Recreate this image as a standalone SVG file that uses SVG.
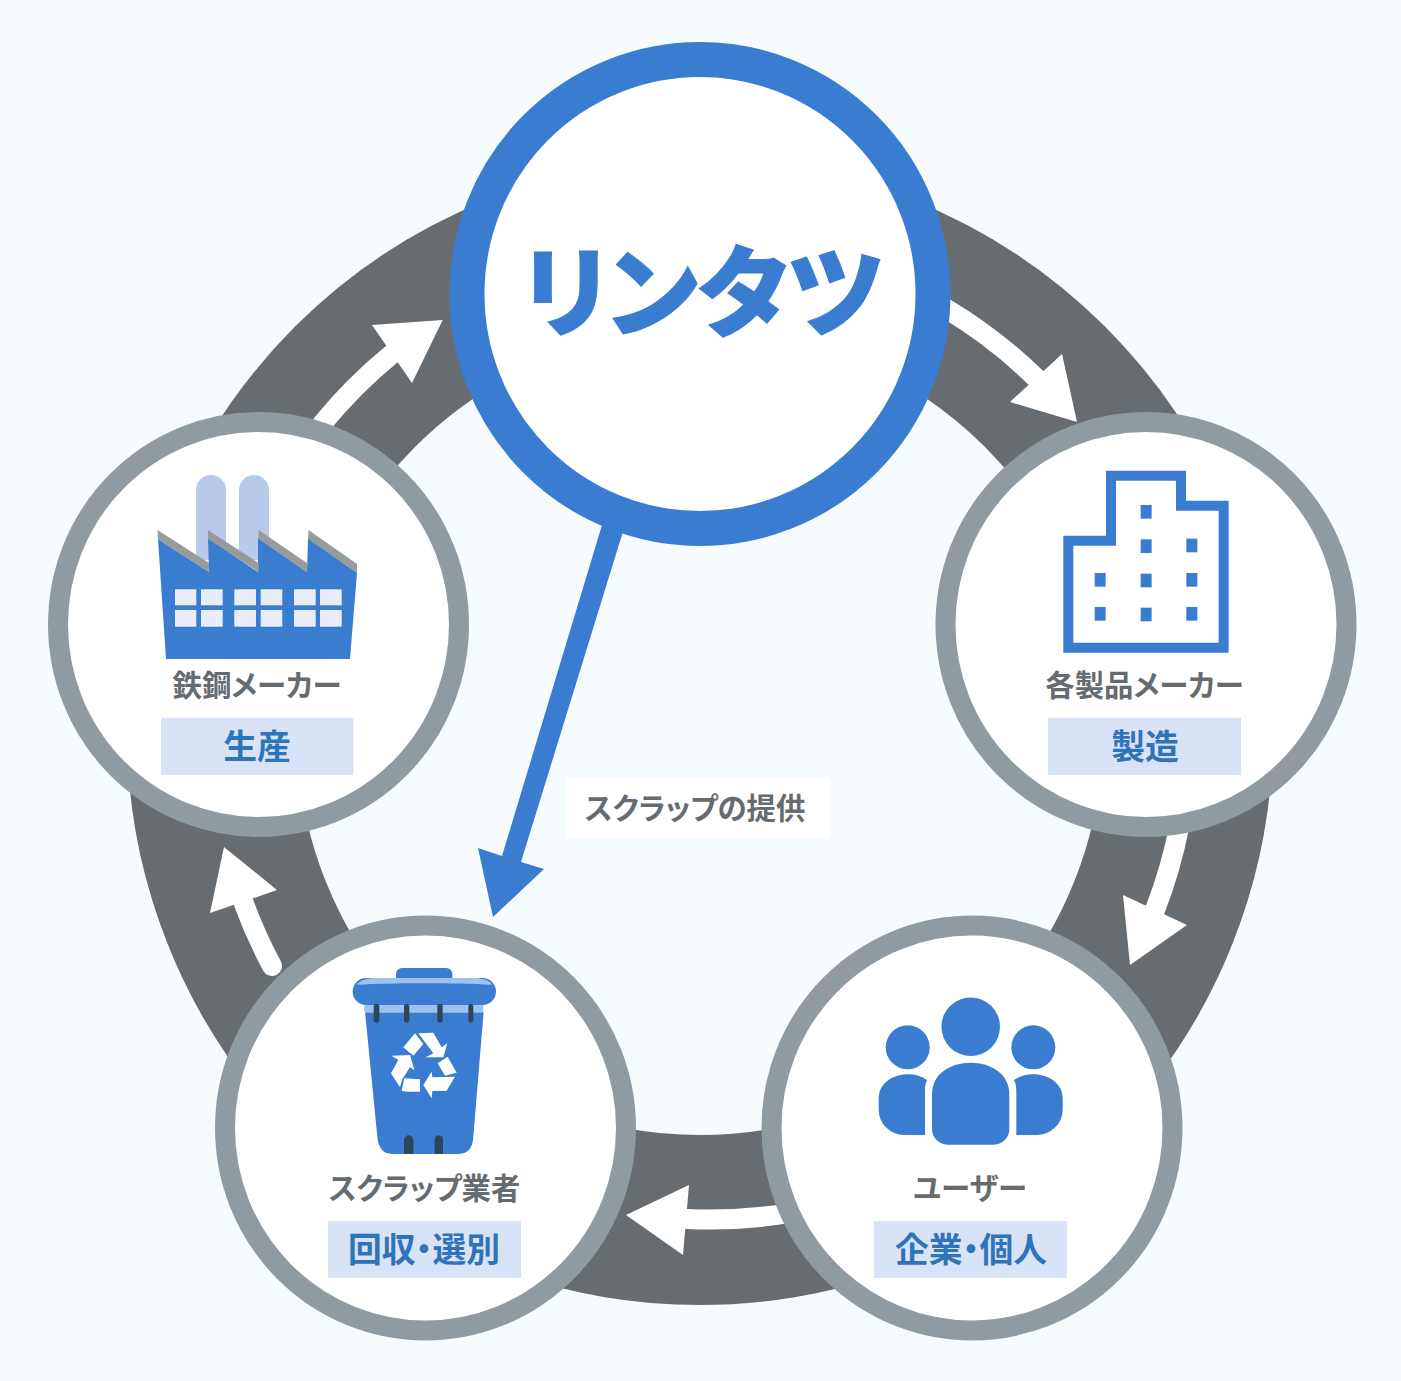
<svg xmlns="http://www.w3.org/2000/svg" width="1401" height="1381" viewBox="0 0 1401 1381">
<style>
text{font-family:"Noto Sans CJK JP","Noto Sans",sans-serif;font-feature-settings:"palt";text-anchor:middle}
.lbl{font-size:29.4px;font-weight:700;fill:#666b70}
.sub{font-size:33.8px;font-weight:700;fill:#2f74b9}
.tag{fill:#d9e3f7}
.disc{fill:#fff;stroke:#8f9ba0;stroke-width:20}
.shaft{fill:none;stroke:#fff;stroke-width:20;stroke-linecap:round}
.bl{fill:#3a7dd0}
.win{fill:#e9edf8}
.gr{fill:#969b9e}
.dk{fill:#2d4558}
</style>
<rect width="1401" height="1381" fill="#f6fcfd"/>
<g id="connectors">
<circle cx="700" cy="732" r="488" fill="none" stroke="#676c70" stroke-width="170"/>
<path class="shaft" d="M945,308 A488,488 0 0 1 1036,378"/><polygon fill="#fff" points="1077,422 1010,402 1062,354"/>
<path class="shaft" d="M1179.500,825 A488,488 0 0 1 1155,910"/><polygon fill="#fff" points="1130,965 1123,895 1187,925"/>
<path class="shaft" d="M790,1213 A488,488 0 0 1 687,1219"/><polygon fill="#fff" points="626,1215 689,1185 683,1255"/>
<path class="shaft" d="M272,966 A488,488 0 0 1 243,901"/><polygon fill="#fff" points="224,847 210,913 277,890"/>
<path class="shaft" d="M322,424 A488,488 0 0 1 392,354"/><polygon fill="#fff" points="442.700,320 372,325 412,383"/>
<polygon class="bl" points="602,525 625,525 521,862 544,869 493,917 478,848 502,856"/>
</g>
<g id="node-rintatsu">
<ellipse cx="700" cy="294" rx="233" ry="234.500" fill="#fff" stroke="#3a7dd0" stroke-width="35"/>
<text x="703" y="329" font-size="99" font-weight="900" fill="#3a7dd0" stroke="#3a7dd0" stroke-width="1">リンタツ</text>
</g>
<g id="edge-label">
<rect x="566" y="778" width="264" height="60" fill="#fff"/>
<text class="lbl" x="695" y="819">スクラップの提供</text>
</g>
<g id="node-steel">
<ellipse class="disc" cx="258.500" cy="624.500" rx="200.500" ry="202.500"/>
<g fill="#b8c9ea"><path d="M196,560V490a15,15 0 0 1 30,0V560Z"/><path d="M239,560V490a15,15 0 0 1 30,0V560Z"/></g>
<polygon class="bl" points="158,539 209,572 208,538 258,572 258,538 307,572 308,538 357,573 350,659 166,659"/>
<polygon class="gr" points="157.500,530 209,563 209,572 158,539"/><polygon class="gr" points="208,530 258.500,563 258.500,572 208,539"/><polygon class="gr" points="258.500,530 307,563 307,572 258.500,539"/><polygon class="gr" points="308.500,530 357,564 357,573 308,539"/>
<g class="win"><rect x="175" y="589.300" width="21.300" height="16"/><rect x="201" y="589.300" width="21.700" height="16"/><rect x="234.300" y="589.300" width="21.700" height="16"/><rect x="260.700" y="589.300" width="21.600" height="16"/><rect x="294" y="589.300" width="21.700" height="16"/><rect x="320" y="589.300" width="21.700" height="16"/><rect x="175" y="610" width="21.300" height="16.700"/><rect x="201" y="610" width="21.700" height="16.700"/><rect x="234.300" y="610" width="21.700" height="16.700"/><rect x="260.700" y="610" width="21.600" height="16.700"/><rect x="294" y="610" width="21.700" height="16.700"/><rect x="320" y="610" width="21.700" height="16.700"/></g>
<text class="lbl" x="257" y="696">鉄鋼メーカー</text>
<rect class="tag" x="161" y="718" width="192.500" height="57"/>
<text class="sub" x="257" y="759">生産</text>
</g>
<g id="node-maker">
<ellipse class="disc" cx="1146" cy="624.500" rx="200.500" ry="202.500"/>
<g transform="translate(1030,460) scale(0.3333)">
<path d="M115,563V242H243V47H453V137H581V563Z" fill="none" stroke="#3a7dd0" stroke-width="30"/>
<g class="bl"><rect x="332" y="135" width="33" height="41"/><rect x="332" y="238" width="33" height="41"/><rect x="469" y="236" width="33" height="41"/><rect x="194" y="339" width="33" height="41"/><rect x="332" y="341" width="33" height="41"/><rect x="469" y="339" width="33" height="41"/><rect x="194" y="441" width="33" height="41"/><rect x="332" y="443" width="33" height="41"/><rect x="469" y="441" width="33" height="41"/></g>
</g>
<text class="lbl" x="1144.500" y="696">各製品メーカー</text>
<rect class="tag" x="1048" y="718" width="193" height="57"/>
<text class="sub" x="1145" y="759">製造</text>
</g>
<g id="node-user">
<ellipse class="disc" cx="972" cy="1128" rx="200.500" ry="202.500"/>
<g class="bl">
<circle cx="970.700" cy="1026.700" r="29.300"/><circle cx="907.700" cy="1047.300" r="22"/><circle cx="1033.300" cy="1047.300" r="22"/>
<path d="M932,1094C932,1074 950,1062.700 970.700,1062.700C991,1062.700 1009.300,1074 1009.300,1094V1129a15.700,15.700 0 0 1 -15.700,15.700H947.700a15.700,15.700 0 0 1 -15.700,-15.700Z"/>
<path d="M878.700,1098C878.700,1084 892,1074.300 908,1074.300C915,1074.300 921,1076 927,1080C925,1084 925,1088 925,1092V1135H904a25.300,25.300 0 0 1 -25.300,-25.300Z"/>
<path d="M1062.700,1098C1062.700,1084 1049,1074.300 1033,1074.300C1026,1074.300 1020,1076 1014,1080C1016,1084 1016.300,1088 1016.300,1092V1135H1037a25.700,25.700 0 0 0 25.700,-25.300Z"/>
</g>
<text class="lbl" x="970" y="1199">ユーザー</text>
<rect class="tag" x="874" y="1221" width="193" height="57"/>
<text class="sub" x="971" y="1262">企業・個人</text>
</g>
<g id="node-scrap">
<ellipse class="disc" cx="425.500" cy="1128" rx="200.500" ry="202.500"/>
<g transform="translate(320,950) scale(0.3333)">
<path class="bl" d="M228,90V72a18,18 0 0 1 18,-18H379a18,18 0 0 1 18,18V90Z"/>
<path class="bl" d="M135,185H491L460,560C458,595 445,612 410,612H220C190,612 175,595 172,560Z"/>
<rect x="133" y="160" width="357" height="28" rx="6" fill="#9cc3ef"/>
<rect x="98" y="84" width="430" height="81" rx="40" class="bl"/>
<path d="M110,104C122,90 140,84 170,84H460C490,84 505,90 517,104C400,98 220,98 110,104Z" fill="#9cc3ef"/>
<g class="dk"><rect x="161" y="162" width="17" height="56" rx="7"/><rect x="252" y="162" width="16" height="56" rx="7"/><rect x="352" y="162" width="16" height="56" rx="7"/><rect x="445" y="162" width="15" height="56" rx="7"/><path d="M252,612V570a14,14 0 0 1 28,0V612Z"/><path d="M344,612V568a12.500,12.500 0 0 1 25,0V612Z"/></g>
<g fill="#fff" transform="translate(75,30)">
<polygon points="210,220 235,252 205,287 175,262"/>
<polygon points="220,220 265,218 290,262 307,250 295,292 242,292 265,280"/>
<polygon points="308,290 335,338 300,347 278,310"/>
<polygon points="330,350 305,392 262,393 260,415 235,375 260,335 262,352"/>
<polygon points="170,392 178,355 225,358 225,395 185,395"/>
<polygon points="140,287 195,285 208,330 195,322 172,358 165,382 138,340 160,300"/>
</g>
</g>
<text class="lbl" x="424.500" y="1199">スクラップ業者</text>
<rect class="tag" x="328" y="1221" width="193" height="57"/>
<text class="sub" x="424" y="1262">回収・選別</text>
</g>
</svg>
